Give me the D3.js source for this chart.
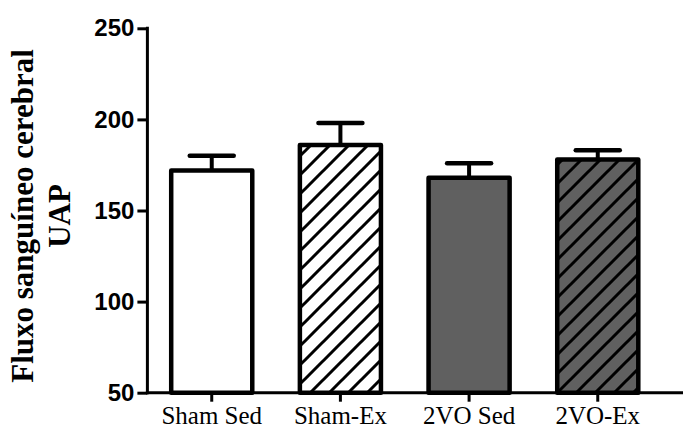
<!DOCTYPE html>
<html>
<head>
<meta charset="utf-8">
<script src="https://cdn.jsdelivr.net/npm/d3@7"></script>
<style>
  body { margin: 0; background: #fff; }
  svg { display: block; }
</style>
</head>
<body>
<div id="chart"></div>
<script>
// data
var groups = ["Sham Sed", "Sham-Ex", "2VO Sed", "2VO-Ex"];
var means = [172, 186, 168, 178];
var sems = [8, 12, 8, 5];
var fills = ["white", "hatchWhite", "#606060", "hatchGrey"];
var yTicks = [50, 100, 150, 200, 250];

var width = 683, height = 427;

var svg = d3.select("#chart")
  .append("svg")
  .attr("width", width)
  .attr("height", height);

// hatch patterns
var defs = svg.append("defs");
function makeHatch(id, bg) {
  var s = 19;
  var p = defs.append("pattern")
    .attr("id", id)
    .attr("patternUnits", "userSpaceOnUse")
    .attr("width", s)
    .attr("height", s);
  p.append("rect").attr("width", s).attr("height", s).attr("fill", bg);
  p.append("path")
    .attr("d", "M0," + s + " L" + s + ",0 M" + (-s / 4) + "," + (s / 4) + " L" + (s / 4) + "," + (-s / 4) +
      " M" + (3 * s / 4) + "," + (5 * s / 4) + " L" + (5 * s / 4) + "," + (3 * s / 4))
    .attr("stroke", "#000")
    .attr("stroke-width", 3);
}
makeHatch("hatchWhite", "#fff");
makeHatch("hatchGrey", "#606060");

var x = d3.scaleBand()
  .domain(groups)
  .range([147.4, 662.1])
  .paddingInner(0.37)
  .paddingOuter(0.185);

var y = d3.scaleLinear()
  .domain([50, 250])
  .range([392.7, 28.3]);

var axisX0 = 147.4;

// error bars (under the bars)
var errs = svg.append("g");
groups.forEach(function(g, i) {
  var cx = x(g) + x.bandwidth() / 2;
  errs.append("line")
    .attr("x1", cx).attr("x2", cx)
    .attr("y1", y(means[i])).attr("y2", y(means[i] + sems[i]))
    .attr("stroke", "#000").attr("stroke-width", 4);
  errs.append("line")
    .attr("x1", cx - 22).attr("x2", cx + 22)
    .attr("y1", y(means[i] + sems[i])).attr("y2", y(means[i] + sems[i]))
    .attr("stroke", "#000").attr("stroke-width", 4.5)
    .attr("stroke-linecap", "round");
});

// bars
svg.append("g")
  .selectAll("rect")
  .data(groups)
  .enter()
  .append("rect")
  .attr("x", function(d) { return x(d); })
  .attr("width", x.bandwidth())
  .attr("y", function(d, i) { return y(means[i]); })
  .attr("height", function(d, i) { return y(50) - y(means[i]); })
  .attr("fill", function(d, i) {
    return fills[i].indexOf("hatch") === 0 ? "url(#" + fills[i] + ")" : fills[i];
  })
  .attr("stroke", "#000")
  .attr("stroke-width", 4.5)
  .attr("stroke-linejoin", "round");

// y axis
var yAxis = svg.append("g")
  .attr("transform", "translate(" + axisX0 + ",0)")
  .call(d3.axisLeft(y).tickValues(yTicks).tickSize(10).tickPadding(3));
yAxis.select(".domain").remove();
yAxis.append("line")
  .attr("x1", 0).attr("x2", 0)
  .attr("y1", y(250) - 1.5).attr("y2", y(50) + 1.5)
  .attr("stroke", "#000").attr("stroke-width", 3);
yAxis.selectAll(".tick line").attr("stroke", "#000").attr("stroke-width", 3);
yAxis.selectAll(".tick text")
  .attr("fill", "#000")
  .style("font-family", "'Liberation Sans', Arial, sans-serif")
  .style("font-weight", "bold")
  .style("font-size", "24px");

// x axis
var xAxis = svg.append("g")
  .attr("transform", "translate(0," + y(50) + ")")
  .call(d3.axisBottom(x).tickSize(9).tickPadding(5));
xAxis.select(".domain").remove();
xAxis.append("line")
  .attr("x1", axisX0 - 1.5).attr("x2", width)
  .attr("y1", 0).attr("y2", 0)
  .attr("stroke", "#000").attr("stroke-width", 3);
xAxis.selectAll(".tick line").attr("stroke", "#000").attr("stroke-width", 3);
xAxis.selectAll(".tick text")
  .attr("fill", "#000")
  .style("font-family", "'Liberation Serif', 'Times New Roman', serif")
  .style("font-size", "25px");

// y label, two lines
var yl = svg.append("text")
  .attr("transform", "translate(0,216) rotate(-90)")
  .attr("text-anchor", "middle")
  .style("font-family", "'Liberation Serif', 'Times New Roman', serif")
  .style("font-weight", "bold")
  .style("font-size", "31px")
  .attr("fill", "#000");
yl.append("tspan").attr("x", 0).attr("y", 33).text("Fluxo sanguíneo cerebral");
yl.append("tspan").attr("x", 0).attr("y", 70).text("UAP");
</script>
</body>
</html>
